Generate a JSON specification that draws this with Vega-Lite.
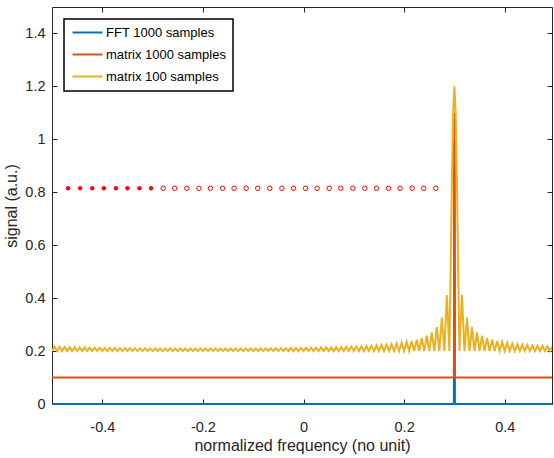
{
  "$schema": "https://vega.github.io/schema/vega-lite/v6.json",
  "width": 500,
  "height": 397,
  "autosize": {"type": "none"},
  "padding": {"left": 52, "top": 7, "right": 2, "bottom": 54},
  "background": "#ffffff",
  "config": {
    "view": {"stroke": "#262626", "strokeWidth": 1},
    "axis": {
      "grid": false,
      "domain": false,
      "tickColor": "#262626",
      "tickSize": -5,
      "tickWidth": 1,
      "labelColor": "#262626",
      "labelFont": "Liberation Sans",
      "labelFontSize": 14.5,
      "titleFont": "Liberation Sans",
      "titleFontSize": 16,
      "titleFontWeight": "normal",
      "titleColor": "#262626"
    },
    "legend": {"strokeWidth": 1.5}
  },
  "resolve": {"axis": {"x": "independent", "y": "independent"}},
  "layer": [
    {
      "layer": [
        {
          "data": {"values": [
            {"f": -0.5, "s": 0}, {"f": 0.299, "s": 0}, {"f": 0.3, "s": 1.0}, {"f": 0.301, "s": 0}, {"f": 0.494, "s": 0}
          ]},
          "mark": {"type": "line", "strokeWidth": 2},
          "encoding": {
            "x": {"field": "f", "type": "quantitative", "scale": {"domain": [-0.5, 0.494], "nice": false, "zero": false},
              "axis": {"orient": "bottom", "values": [-0.4, -0.2, 0, 0.2, 0.4], "format": ".1~f", "labelExpr": "replace(datum.label, '−', '-')", "labelPadding": 21, "title": "normalized frequency (no unit)", "titleBaseline": "alphabetic", "titleY": 46}},
            "y": {"field": "s", "type": "quantitative", "scale": {"domain": [0, 1.5], "nice": false},
              "axis": {"orient": "left", "values": [0, 0.2, 0.4, 0.6, 0.8, 1, 1.2, 1.4], "format": ".1~f", "labelPadding": 12, "title": "signal (a.u.)", "titleBaseline": "alphabetic", "titleX": -36}},
            "color": {"datum": "FFT 1000 samples", "type": "nominal",
              "scale": {"domain": ["FFT 1000 samples", "matrix 1000 samples", "matrix 100 samples"], "range": ["#0072BD", "#D95319", "#EDB120"]},
              "legend": {"title": null, "orient": "top-left", "offset": 12, "symbolType": "M-1,0H5", "symbolSize": 100, "symbolStrokeWidth": 2, "labelFont": "Liberation Sans", "labelFontSize": 13, "labelColor": "#000000", "labelOffset": 22, "strokeColor": "#000000", "fillColor": "#ffffff", "padding": 7, "rowPadding": 8}}
          }
        },
        {
          "data": {"values": [
            {"f": -0.5, "s": 0.1}, {"f": 0.299, "s": 0.1}, {"f": 0.3, "s": 1.1}, {"f": 0.301, "s": 0.1}, {"f": 0.494, "s": 0.1}
          ]},
          "mark": {"type": "line", "strokeWidth": 2},
          "encoding": {
            "x": {"field": "f", "type": "quantitative"},
            "y": {"field": "s", "type": "quantitative"},
            "color": {"datum": "matrix 1000 samples", "type": "nominal"}
          }
        },
        {
          "data": {"values": [
            {"f":-0.5,"s":0.2},{"f":-0.495,"s":0.217},{"f":-0.49,"s":0.2},{"f":-0.485,"s":0.216},{"f":-0.48,"s":0.2},{"f":-0.475,"s":0.215},{"f":-0.47,"s":0.2},{"f":-0.465,"s":0.215},{"f":-0.46,"s":0.2},{"f":-0.455,"s":0.214},{"f":-0.45,"s":0.2},{"f":-0.445,"s":0.214},{"f":-0.44,"s":0.2},{"f":-0.435,"s":0.214},{"f":-0.43,"s":0.2},{"f":-0.425,"s":0.213},{"f":-0.42,"s":0.2},{"f":-0.415,"s":0.213},{"f":-0.41,"s":0.2},{"f":-0.405,"s":0.213},{"f":-0.4,"s":0.2},{"f":-0.395,"s":0.212},{"f":-0.39,"s":0.2},{"f":-0.385,"s":0.212},{"f":-0.38,"s":0.2},{"f":-0.375,"s":0.212},{"f":-0.37,"s":0.2},{"f":-0.365,"s":0.211},{"f":-0.36,"s":0.2},{"f":-0.355,"s":0.211},{"f":-0.35,"s":0.2},{"f":-0.345,"s":0.211},{"f":-0.34,"s":0.2},{"f":-0.335,"s":0.211},{"f":-0.33,"s":0.2},{"f":-0.325,"s":0.211},{"f":-0.32,"s":0.2},{"f":-0.315,"s":0.211},{"f":-0.31,"s":0.2},{"f":-0.305,"s":0.21},{"f":-0.3,"s":0.2},{"f":-0.295,"s":0.21},{"f":-0.29,"s":0.2},{"f":-0.285,"s":0.21},{"f":-0.28,"s":0.2},{"f":-0.275,"s":0.21},{"f":-0.27,"s":0.2},{"f":-0.265,"s":0.21},{"f":-0.26,"s":0.2},{"f":-0.255,"s":0.21},{"f":-0.25,"s":0.2},{"f":-0.245,"s":0.21},{"f":-0.24,"s":0.2},{"f":-0.235,"s":0.21},{"f":-0.23,"s":0.2},{"f":-0.225,"s":0.21},{"f":-0.22,"s":0.2},{"f":-0.215,"s":0.21},{"f":-0.21,"s":0.2},{"f":-0.205,"s":0.21},{"f":-0.2,"s":0.2},{"f":-0.195,"s":0.21},{"f":-0.19,"s":0.2},{"f":-0.185,"s":0.21},{"f":-0.18,"s":0.2},{"f":-0.175,"s":0.21},{"f":-0.17,"s":0.2},{"f":-0.165,"s":0.21},{"f":-0.16,"s":0.2},{"f":-0.155,"s":0.21},{"f":-0.15,"s":0.2},{"f":-0.145,"s":0.21},{"f":-0.14,"s":0.2},{"f":-0.135,"s":0.21},{"f":-0.13,"s":0.2},{"f":-0.125,"s":0.21},{"f":-0.12,"s":0.2},{"f":-0.115,"s":0.21},{"f":-0.11,"s":0.2},{"f":-0.105,"s":0.21},{"f":-0.1,"s":0.2},{"f":-0.095,"s":0.21},{"f":-0.09,"s":0.2},{"f":-0.085,"s":0.211},{"f":-0.08,"s":0.2},{"f":-0.075,"s":0.211},{"f":-0.07,"s":0.2},{"f":-0.065,"s":0.211},{"f":-0.06,"s":0.2},{"f":-0.055,"s":0.211},{"f":-0.05,"s":0.2},{"f":-0.045,"s":0.211},{"f":-0.04,"s":0.2},{"f":-0.035,"s":0.211},{"f":-0.03,"s":0.2},{"f":-0.025,"s":0.212},{"f":-0.02,"s":0.2},{"f":-0.015,"s":0.212},{"f":-0.01,"s":0.2},{"f":-0.005,"s":0.212},{"f":0,"s":0.2},{"f":0.005,"s":0.213},{"f":0.01,"s":0.2},{"f":0.015,"s":0.213},{"f":0.02,"s":0.2},{"f":0.025,"s":0.213},{"f":0.03,"s":0.2},{"f":0.035,"s":0.214},{"f":0.04,"s":0.2},{"f":0.045,"s":0.214},{"f":0.05,"s":0.2},{"f":0.055,"s":0.214},{"f":0.06,"s":0.2},{"f":0.065,"s":0.215},{"f":0.07,"s":0.2},{"f":0.075,"s":0.215},{"f":0.08,"s":0.2},{"f":0.085,"s":0.216},{"f":0.09,"s":0.2},{"f":0.095,"s":0.217},{"f":0.1,"s":0.2},{"f":0.105,"s":0.217},{"f":0.11,"s":0.2},{"f":0.115,"s":0.218},{"f":0.12,"s":0.2},{"f":0.125,"s":0.219},{"f":0.13,"s":0.2},{"f":0.135,"s":0.22},{"f":0.14,"s":0.2},{"f":0.145,"s":0.221},{"f":0.15,"s":0.2},{"f":0.155,"s":0.223},{"f":0.16,"s":0.2},{"f":0.165,"s":0.224},{"f":0.17,"s":0.2},{"f":0.175,"s":0.226},{"f":0.18,"s":0.2},{"f":0.185,"s":0.228},{"f":0.19,"s":0.2},{"f":0.195,"s":0.231},{"f":0.2,"s":0.2},{"f":0.205,"s":0.234},{"f":0.21,"s":0.2},{"f":0.215,"s":0.238},{"f":0.22,"s":0.2},{"f":0.225,"s":0.243},{"f":0.23,"s":0.2},{"f":0.235,"s":0.249},{"f":0.24,"s":0.2},{"f":0.245,"s":0.258},{"f":0.25,"s":0.2},{"f":0.255,"s":0.271},{"f":0.26,"s":0.2},{"f":0.265,"s":0.291},{"f":0.27,"s":0.2},{"f":0.275,"s":0.327},{"f":0.28,"s":0.2},{"f":0.285,"s":0.412},{"f":0.29,"s":0.2},{"f":0.2925,"s":0.5},{"f":0.295,"s":0.837},{"f":0.2975,"s":1.1},{"f":0.3,"s":1.2},{"f":0.3025,"s":1.1},{"f":0.305,"s":0.837},{"f":0.3075,"s":0.5},{"f":0.31,"s":0.2},{"f":0.315,"s":0.412},{"f":0.32,"s":0.2},{"f":0.325,"s":0.327},{"f":0.33,"s":0.2},{"f":0.335,"s":0.291},{"f":0.34,"s":0.2},{"f":0.345,"s":0.271},{"f":0.35,"s":0.2},{"f":0.355,"s":0.258},{"f":0.36,"s":0.2},{"f":0.365,"s":0.249},{"f":0.37,"s":0.2},{"f":0.375,"s":0.243},{"f":0.38,"s":0.2},{"f":0.385,"s":0.238},{"f":0.39,"s":0.2},{"f":0.395,"s":0.234},{"f":0.4,"s":0.2},{"f":0.405,"s":0.231},{"f":0.41,"s":0.2},{"f":0.415,"s":0.228},{"f":0.42,"s":0.2},{"f":0.425,"s":0.226},{"f":0.43,"s":0.2},{"f":0.435,"s":0.224},{"f":0.44,"s":0.2},{"f":0.445,"s":0.223},{"f":0.45,"s":0.2},{"f":0.455,"s":0.221},{"f":0.46,"s":0.2},{"f":0.465,"s":0.22},{"f":0.47,"s":0.2},{"f":0.475,"s":0.219},{"f":0.48,"s":0.2},{"f":0.485,"s":0.218},{"f":0.49,"s":0.2},{"f":0.495,"s":0.217}
          ]},
          "mark": {"type": "line", "strokeWidth": 2, "clip": true},
          "encoding": {
            "x": {"field": "f", "type": "quantitative"},
            "y": {"field": "s", "type": "quantitative"},
            "color": {"datum": "matrix 100 samples", "type": "nominal"}
          }
        }
      ]
    },
    {
      "data": {"values": [
        {"f": -0.468, "s": 0.815, "state": "filled"}, {"f": -0.444, "s": 0.815, "state": "filled"}, {"f": -0.42, "s": 0.815, "state": "filled"}, {"f": -0.397, "s": 0.815, "state": "filled"},
        {"f": -0.373, "s": 0.815, "state": "filled"}, {"f": -0.35, "s": 0.815, "state": "filled"}, {"f": -0.326, "s": 0.815, "state": "filled"}, {"f": -0.303, "s": 0.815, "state": "filled"},
        {"f": -0.279, "s": 0.815, "state": "open"}, {"f": -0.256, "s": 0.815, "state": "open"}, {"f": -0.232, "s": 0.815, "state": "open"}, {"f": -0.208, "s": 0.815, "state": "open"},
        {"f": -0.185, "s": 0.815, "state": "open"}, {"f": -0.161, "s": 0.815, "state": "open"}, {"f": -0.138, "s": 0.815, "state": "open"}, {"f": -0.114, "s": 0.815, "state": "open"},
        {"f": -0.091, "s": 0.815, "state": "open"}, {"f": -0.067, "s": 0.815, "state": "open"}, {"f": -0.043, "s": 0.815, "state": "open"}, {"f": -0.02, "s": 0.815, "state": "open"},
        {"f": 0.004, "s": 0.815, "state": "open"}, {"f": 0.027, "s": 0.815, "state": "open"}, {"f": 0.051, "s": 0.815, "state": "open"}, {"f": 0.074, "s": 0.815, "state": "open"},
        {"f": 0.098, "s": 0.815, "state": "open"}, {"f": 0.122, "s": 0.815, "state": "open"}, {"f": 0.145, "s": 0.815, "state": "open"}, {"f": 0.169, "s": 0.815, "state": "open"},
        {"f": 0.192, "s": 0.815, "state": "open"}, {"f": 0.216, "s": 0.815, "state": "open"}, {"f": 0.239, "s": 0.815, "state": "open"}, {"f": 0.263, "s": 0.815, "state": "open"}
      ]},
      "mark": {"type": "point", "shape": "circle", "strokeWidth": 1, "stroke": "#ff0000", "opacity": 1},
      "encoding": {
        "x": {"field": "f", "type": "quantitative", "scale": {"domain": [-0.5, 0.494], "nice": false, "zero": false},
          "axis": {"orient": "top", "values": [-0.4, -0.2, 0, 0.2, 0.4], "labels": false, "title": null}},
        "y": {"field": "s", "type": "quantitative", "scale": {"domain": [0, 1.5], "nice": false},
          "axis": {"orient": "right", "values": [0, 0.2, 0.4, 0.6, 0.8, 1, 1.2, 1.4], "labels": false, "title": null}},
        "fill": {"field": "state", "type": "nominal", "scale": {"domain": ["filled", "open"], "range": ["#ff0000", "#ffffff"]}, "legend": null},
        "size": {"field": "state", "type": "nominal", "scale": {"domain": ["filled", "open"], "range": [13, 20]}, "legend": null}
      }
    }
  ]
}
